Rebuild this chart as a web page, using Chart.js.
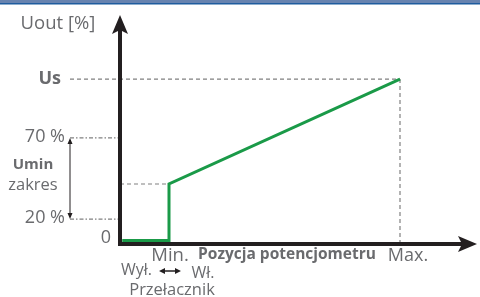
<!DOCTYPE html>
<html>
<head>
<meta charset="utf-8">
<script src="https://cdn.jsdelivr.net/npm/chart.js@4.4.1/dist/chart.umd.min.js"></script>
<style>
  html, body { margin: 0; padding: 0; background: #fff; }
  canvas { display: block; }
</style>
</head>
<body>
<canvas id="chart" width="480" height="297"></canvas>
<script>
// schematic values: potentiometer position (x) vs output voltage (y)
const potPositions = [0.8, 17.5, 17.5, 100];
const uoutValues = [1.5, 1.5, 26.2, 72];
const yTickValues = [0, 10.9, 46.3, 72];
const yTickLabels = ["0", "20 %", "70 %", "Us"];
const xTickValues = [17.5, 100];
const xTickLabels = ["Min.", "Max."];
const minLevel = 26.2;

const TEXT = "#6a6b6e";
const AXIS = "#231f20";
const DASH = "#808080";
const FONT = "'Open Sans', 'DejaVu Sans', sans-serif";

function font(size, bold) {
  return (bold ? "bold " : "") + size + "px " + FONT;
}

function hline(ctx, x1, x2, y, dash) {
  ctx.save();
  ctx.strokeStyle = DASH;
  ctx.lineWidth = 1.2;
  ctx.setLineDash(dash);
  ctx.beginPath();
  ctx.moveTo(x1, y);
  ctx.lineTo(x2, y);
  ctx.stroke();
  ctx.restore();
}

function text(ctx, str, x, y, size, bold, align) {
  ctx.font = font(size, bold);
  ctx.fillStyle = TEXT;
  ctx.textAlign = align || "left";
  ctx.textBaseline = "middle";
  ctx.fillText(str, x, y);
}

// draws the axes, arrows, guide lines and all labels from the chart scales
const schematic = {
  id: "schematic",
  beforeDraw(chart) {
    const ctx = chart.ctx;
    ctx.save();
    ctx.fillStyle = "#6783b0";
    ctx.fillRect(0, 0, chart.width, 3);
    ctx.fillStyle = "#1f5c9e";
    ctx.fillRect(0, 3, chart.width, 1.5);
    ctx.restore();
  },
  beforeDatasetsDraw(chart) {
    const ctx = chart.ctx;
    const xs = chart.scales.x;
    const ys = chart.scales.y;
    const x0 = xs.getPixelForValue(0);
    const y0 = ys.getPixelForValue(0);
    const xMax = xs.getPixelForValue(100);
    const xMin = xs.getPixelForValue(xTickValues[0]);
    const top = chart.chartArea.top;
    const right = chart.chartArea.right;

    // guide lines
    const yUs = ys.getPixelForValue(yTickValues[3]);
    const y70 = ys.getPixelForValue(yTickValues[2]);
    const y20 = ys.getPixelForValue(yTickValues[1]);
    const yMinLvl = ys.getPixelForValue(minLevel);
    hline(ctx, 70, xMax, yUs, [4, 3]);
    hline(ctx, 70, x0, y70, [4, 2, 1.5, 2]);
    hline(ctx, 70, x0, y20, [4, 2, 1.5, 2]);
    hline(ctx, x0, xMin, yMinLvl, [4, 3]);
    ctx.save();
    ctx.strokeStyle = DASH;
    ctx.lineWidth = 1.2;
    ctx.setLineDash([4, 3]);
    ctx.beginPath();
    ctx.moveTo(xMax, yUs);
    ctx.lineTo(xMax, y0);
    ctx.stroke();
    ctx.restore();

    // axes with arrow heads
    ctx.save();
    ctx.strokeStyle = AXIS;
    ctx.fillStyle = AXIS;
    ctx.lineWidth = 4;
    ctx.beginPath();
    ctx.moveTo(x0, y0 + 2);
    ctx.lineTo(x0, top + 14);
    ctx.moveTo(x0 - 2, y0);
    ctx.lineTo(right - 14, y0);
    ctx.stroke();
    ctx.beginPath();
    ctx.moveTo(x0, top);
    ctx.lineTo(x0 + 8, top + 19);
    ctx.lineTo(x0, top + 15);
    ctx.lineTo(x0 - 8, top + 19);
    ctx.closePath();
    ctx.fill();
    ctx.beginPath();
    ctx.moveTo(right, y0);
    ctx.lineTo(right - 19, y0 - 8);
    ctx.lineTo(right - 15, y0);
    ctx.lineTo(right - 19, y0 + 8);
    ctx.closePath();
    ctx.fill();

    // Umin range arrow
    ctx.lineWidth = 1;
    ctx.beginPath();
    ctx.moveTo(70, y70 + 2);
    ctx.lineTo(70, y20 - 2);
    ctx.stroke();
    ctx.beginPath();
    ctx.moveTo(70, y70);
    ctx.lineTo(72.5, y70 + 6);
    ctx.lineTo(67.5, y70 + 6);
    ctx.closePath();
    ctx.moveTo(70, y20);
    ctx.lineTo(72.5, y20 - 6);
    ctx.lineTo(67.5, y20 - 6);
    ctx.closePath();
    ctx.fill();

    // switch double arrow
    ctx.lineWidth = 1.5;
    ctx.beginPath();
    ctx.moveTo(163, 271);
    ctx.lineTo(177, 271);
    ctx.stroke();
    ctx.beginPath();
    ctx.moveTo(159, 271);
    ctx.lineTo(165, 268);
    ctx.lineTo(165, 274);
    ctx.closePath();
    ctx.moveTo(181, 271);
    ctx.lineTo(175, 268);
    ctx.lineTo(175, 274);
    ctx.closePath();
    ctx.fill();
    ctx.restore();

    // labels
    text(ctx, "Uout [%]", 58, 24, 18.5, false, "center");
    text(ctx, yTickLabels[3], 61, yUs, 18, true, "right");
    text(ctx, yTickLabels[2], 65, y70 - 1, 18, false, "right");
    text(ctx, yTickLabels[1], 65, y20 - 1, 18, false, "right");
    text(ctx, yTickLabels[0], 111, y0 - 6, 18, false, "right");
    text(ctx, "Umin", 33, 165, 15, true, "center");
    text(ctx, "zakres", 33, 185, 16.5, false, "center");
    text(ctx, xTickLabels[0], xMin + 1, 256, 18.5, false, "center");
    text(ctx, xTickLabels[1], xMax + 8, 256, 18, false, "center");
    text(ctx, "Pozycja potencjometru", 287, 255, 15.5, true, "center");
    text(ctx, "Wył.", 121, 270, 16, false, "left");
    text(ctx, "Wł.", 203, 273, 16, false, "center");
    text(ctx, "Przełacznik", 172, 290, 16.5, false, "center");
  }
};

const points = potPositions.map((x, i) => ({ x: x, y: uoutValues[i] }));

new Chart(document.getElementById("chart"), {
  type: "line",
  data: {
    datasets: [{
      data: points,
      borderColor: "#1a9a48",
      borderWidth: 3,
      pointRadius: 0,
      tension: 0,
      borderJoinStyle: "miter",
      fill: false
    }]
  },
  options: {
    responsive: false,
    animation: false,
    devicePixelRatio: 1,
    layout: { padding: { left: 120, right: 3, top: 15, bottom: 53 } },
    plugins: { legend: { display: false }, tooltip: { enabled: false } },
    scales: {
      x: { type: "linear", min: 0, max: 127.5, display: false },
      y: { type: "linear", min: 0, max: 100, display: false }
    }
  },
  plugins: [schematic]
});
</script>
</body>
</html>
